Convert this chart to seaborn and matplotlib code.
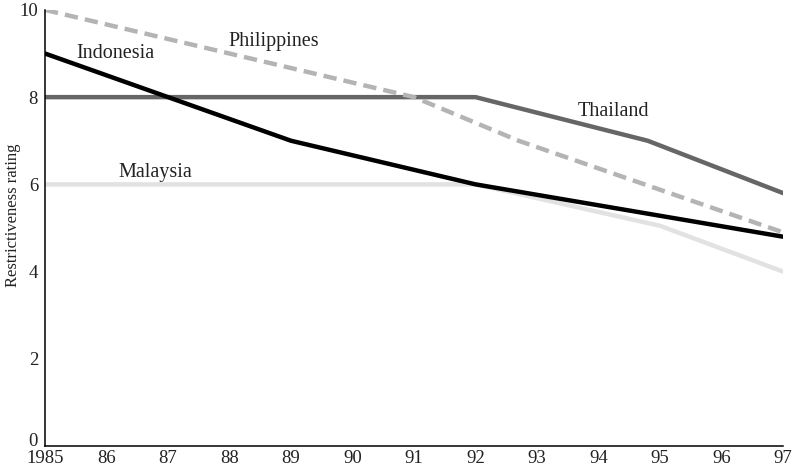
import matplotlib
matplotlib.use("Agg")
import matplotlib.pyplot as plt
import matplotlib.transforms as mtransforms
import seaborn as sns

# Data
philippines_years = [1985, 1991, 1992.7, 1997]
philippines_vals = [10, 8.0, 7.0, 4.9]
indonesia_years = [1985, 1989, 1992, 1997]
indonesia_vals = [9, 7.0, 6.0, 4.8]
thailand_years = [1985, 1992, 1994.8, 1997]
thailand_vals = [8, 8, 7.0, 5.8]
malaysia_years = [1985, 1992, 1995, 1997]
malaysia_vals = [6, 6, 5.05, 4.0]

tick_years = list(range(1985, 1998))
tick_labels = ["1985"] + [str(y)[2:] for y in tick_years[1:]]

sns.set_style("white")
plt.rcParams['font.family'] = ['Liberation Serif', 'DejaVu Serif']

fig = plt.figure(figsize=(7.94, 4.72), dpi=100)
ax = fig.add_axes([0.0567, 0.055, 0.9295, 0.924])

sns.lineplot(x=malaysia_years, y=malaysia_vals, ax=ax, color="#e2e2e2", linewidth=3.2)
sns.lineplot(x=thailand_years, y=thailand_vals, ax=ax, color="#666666", linewidth=3.2)
sns.lineplot(x=philippines_years, y=philippines_vals, ax=ax, color="#b4b4b4", linewidth=3.2,
             linestyle=(0, (3, 1.6)))
sns.lineplot(x=indonesia_years, y=indonesia_vals, ax=ax, color="black", linewidth=3.2)

# series labels
lab = dict(fontsize=14.5, color="#222222", ha="center", va="center")
ax.text(1988.72, 9.27, "Philippines", **lab)
ax.text(1986.14, 9.0, "Indonesia", **lab)
ax.text(1994.25, 7.66, "Thailand", **lab)
ax.text(1986.8, 6.28, "Malaysia", **lab)

ax.set_xlim(1985, 1997)
ax.set_ylim(0, 10)
ax.set_xticks(tick_years)
ax.set_xticklabels(tick_labels)
ax.set_yticks([0, 2, 4, 6, 8, 10])
ax.set_ylabel("Restrictiveness rating", fontsize=12, color="#222222")
ax.yaxis.set_label_coords(-0.033, 0.53)

for s in ["top", "right"]:
    ax.spines[s].set_visible(False)
for s in ["left", "bottom"]:
    ax.spines[s].set_color("black")
    ax.spines[s].set_linewidth(1.1)

ax.tick_params(axis="x", direction="in", length=5, width=1.1, color="black",
               labelsize=13.5, labelcolor="#222222", pad=3)
ax.tick_params(axis="y", direction="in", length=6, width=1.1, color="black",
               labelsize=13.5, labelcolor="#222222", pad=5)
ax.grid(False)

# nudge the "0" label up a little so it clears "1985", as in the reference
zero_lab = ax.get_yticklabels()[0]
zero_lab.set_transform(zero_lab.get_transform() +
                       mtransforms.ScaledTranslation(0, 5 / 72, fig.dpi_scale_trans))

fig.savefig("out.png", dpi=100)
